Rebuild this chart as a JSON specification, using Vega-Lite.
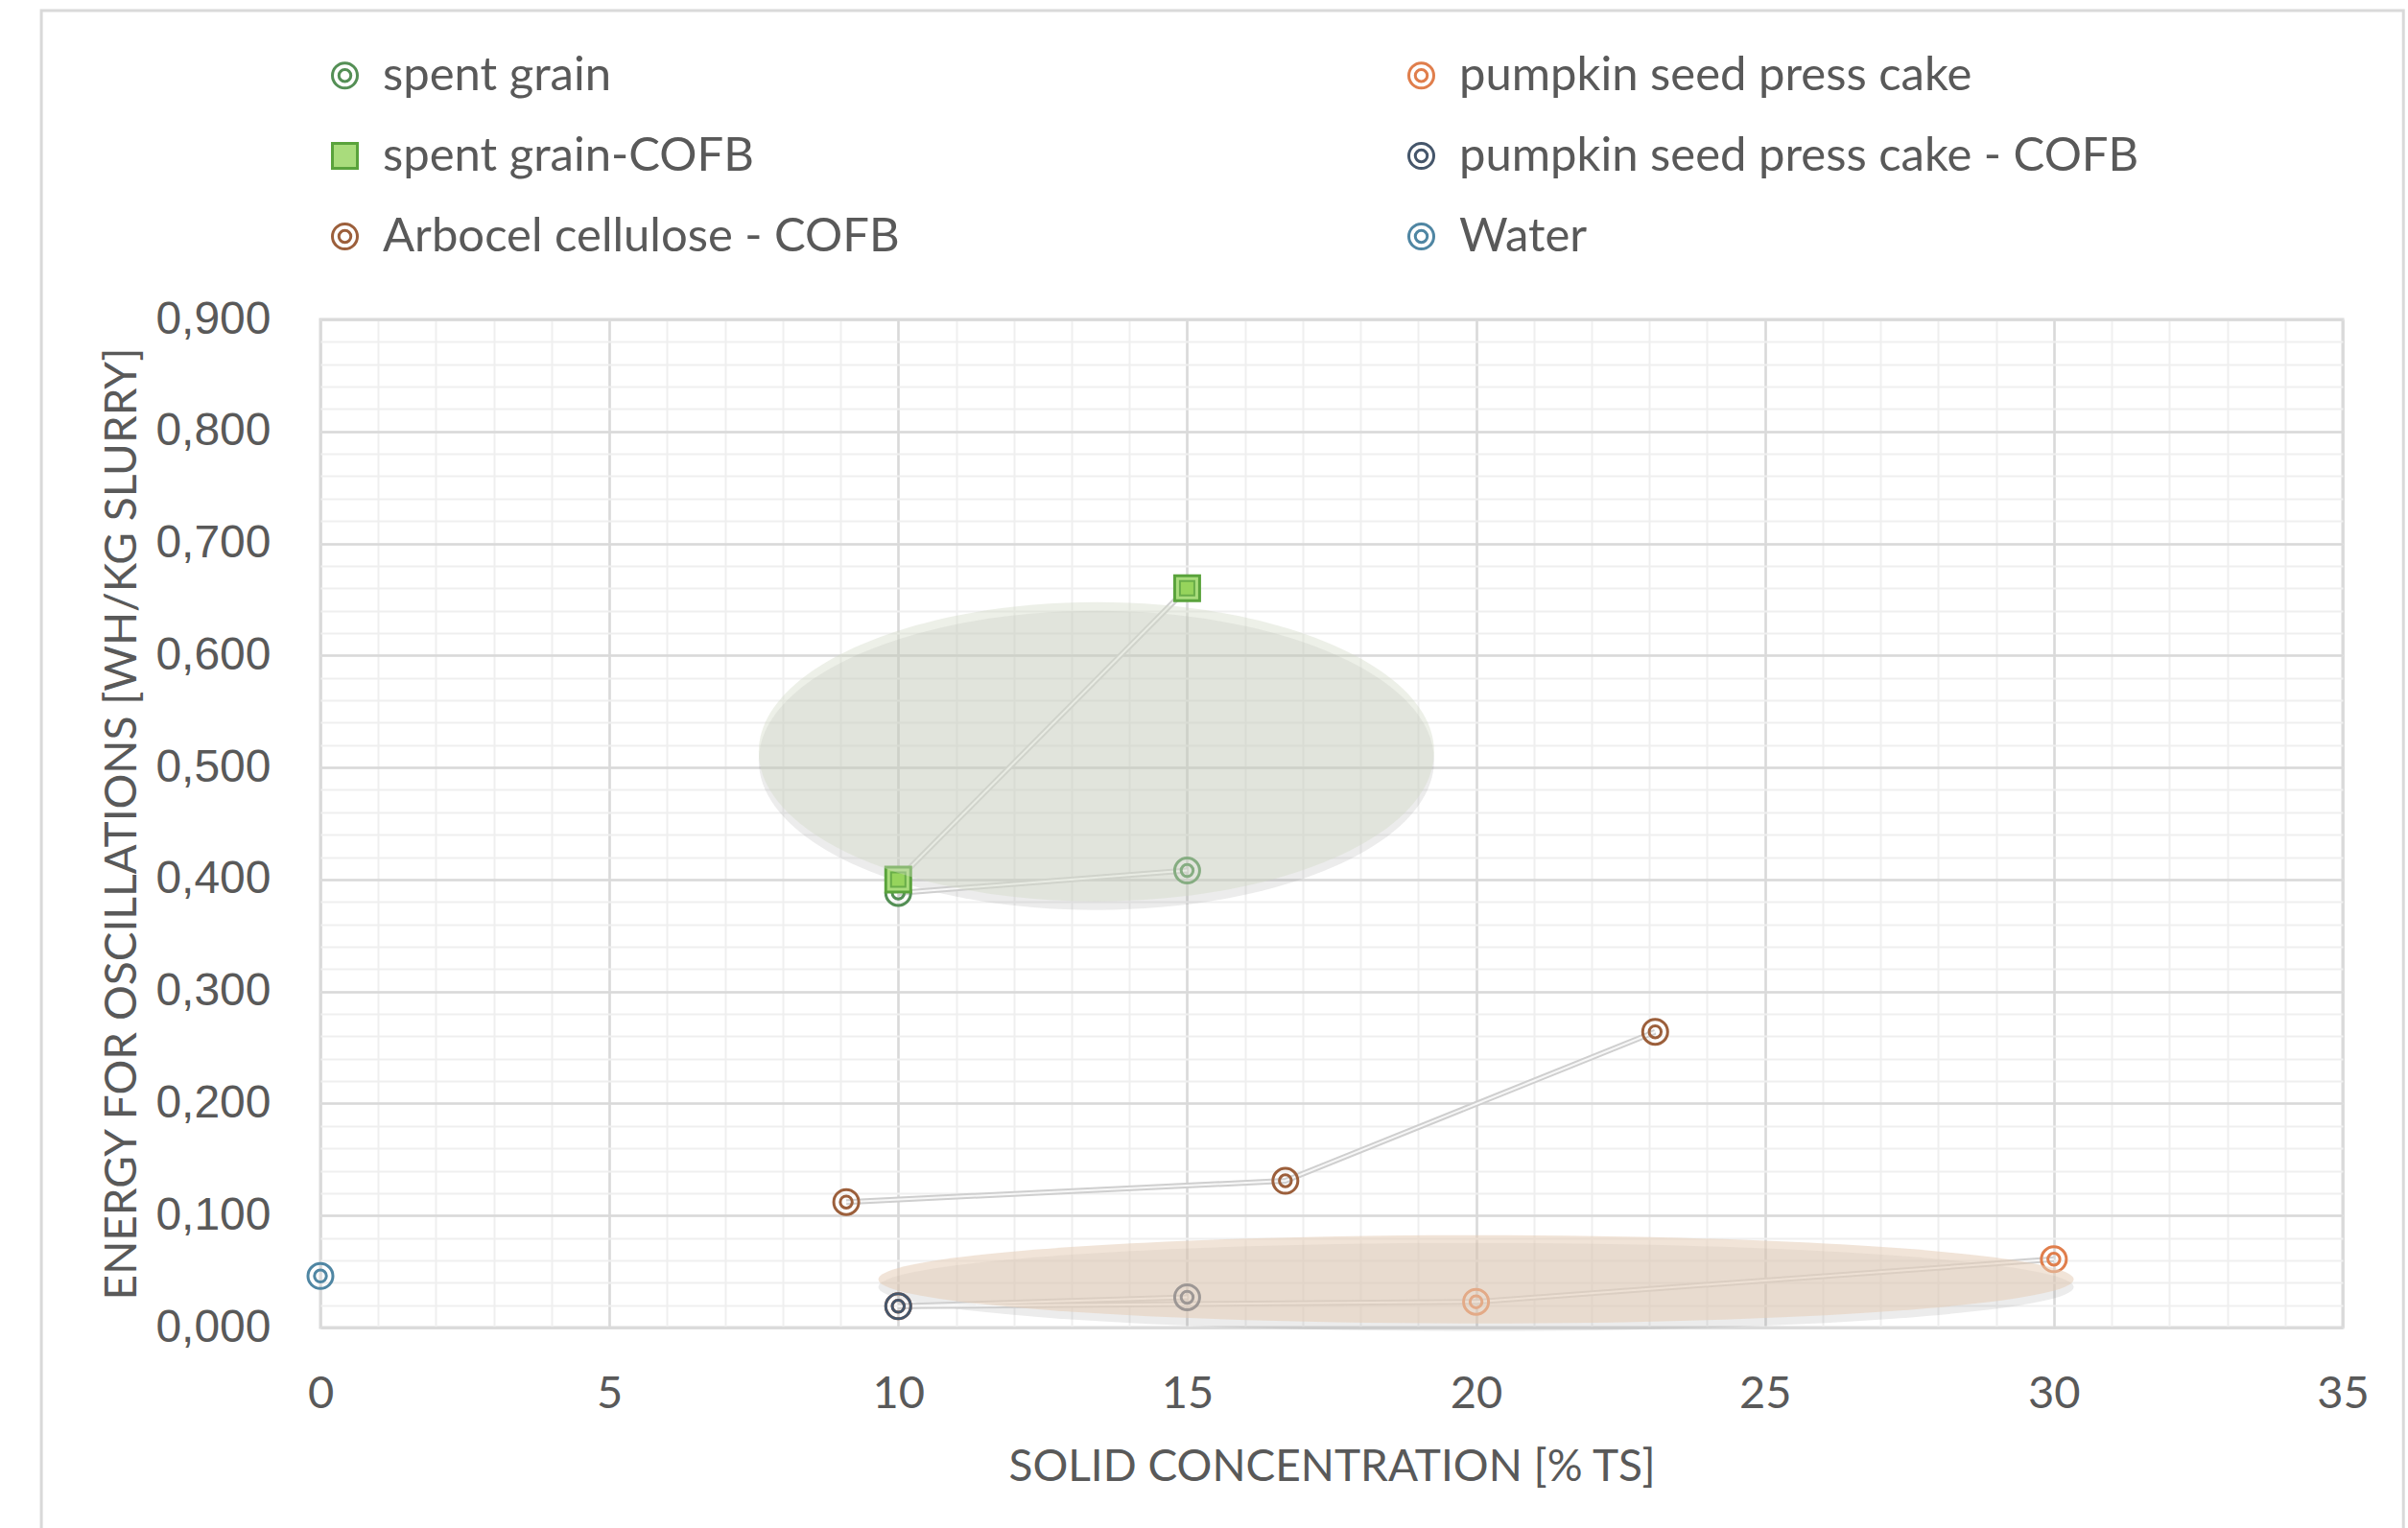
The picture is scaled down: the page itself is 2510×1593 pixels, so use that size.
{
  "$schema": "https://vega.github.io/schema/vega-lite/v6.json",
  "width": 2108,
  "height": 1051,
  "autosize": {"type": "none"},
  "padding": {"left": 334, "top": 333, "right": 68, "bottom": 209},
  "background": "#ffffff",
  "config": {
    "locale": {"number": {"decimal": ",", "thousands": ".", "grouping": [3], "currency": ["", " €"]}},
    "view": {"stroke": "#d9d9d9", "strokeWidth": 3},
    "legend": {
      "orient": "none",
      "legendX": 1,
      "legendY": -279,
      "columns": 2,
      "columnPadding": 519,
      "rowPadding": 34,
      "padding": 0,
      "labelFont": "Lato",
      "labelFontSize": 49,
      "labelColor": "#595959",
      "labelOffset": 15,
      "labelLimit": 2000,
      "symbolSize": 676,
      "symbolStrokeWidth": 3
    }
  },
  "datasets": {
    "series": [
      {"series": "spent grain", "ts": 10, "energy": 0.388},
      {"series": "spent grain", "ts": 15, "energy": 0.408},
      {"series": "Arbocel cellulose - COFB", "ts": 9.1, "energy": 0.112},
      {"series": "Arbocel cellulose - COFB", "ts": 16.7, "energy": 0.131},
      {"series": "Arbocel cellulose - COFB", "ts": 23.1, "energy": 0.264},
      {"series": "pumpkin seed press cake", "ts": 10, "energy": 0.019},
      {"series": "pumpkin seed press cake", "ts": 20, "energy": 0.023},
      {"series": "pumpkin seed press cake", "ts": 30, "energy": 0.061},
      {"series": "pumpkin seed press cake - COFB", "ts": 10, "energy": 0.019},
      {"series": "pumpkin seed press cake - COFB", "ts": 15, "energy": 0.027},
      {"series": "Water", "ts": 0, "energy": 0.046},
      {"series": "spent grain-COFB", "ts": 10, "energy": 0.400},
      {"series": "spent grain-COFB", "ts": 15, "energy": 0.660}
    ],
    "highlights": [
      {"group": "spent grain", "ts": 13.43, "energy": 0.514},
      {"group": "pumpkin", "ts": 20.0, "energy": 0.043}
    ]
  },
  "resolve": {"axis": {"x": "independent", "y": "independent"}},
  "layer": [
    {
      "data": {"values": [{}]},
      "mark": {"type": "rect", "fill": "transparent", "stroke": "#d9d9d9", "strokeWidth": 3, "clip": false},
      "encoding": {
        "x": {"datum": -4.83, "type": "quantitative", "scale": {"domain": [0, 35], "nice": false, "zero": false}, "axis": null},
        "x2": {"datum": 36.05},
        "y": {"datum": 1.1757, "type": "quantitative", "scale": {"domain": [0, 0.9], "nice": false, "zero": false}, "axis": null},
        "y2": {"datum": -0.35}
      }
    },
    {
      "data": {"name": "series"},
      "mark": {"type": "point", "opacity": 0},
      "encoding": {
        "x": {"field": "ts", "type": "quantitative", "scale": {"domain": [0, 35], "nice": false, "zero": false},
          "axis": {"orient": "bottom", "values": [0,1,2,3,4,5,6,7,8,9,10,11,12,13,14,15,16,17,18,19,20,21,22,23,24,25,26,27,28,29,30,31,32,33,34,35],
            "grid": true, "gridColor": "#efefef", "gridWidth": 2, "labels": false, "ticks": false, "domain": false, "title": null}},
        "y": {"field": "energy", "type": "quantitative", "scale": {"domain": [0, 0.9], "nice": false, "zero": false},
          "axis": {"orient": "left", "values": [0,0.02,0.04,0.06,0.08,0.1,0.12,0.14,0.16,0.18,0.2,0.22,0.24,0.26,0.28,0.3,0.32,0.34,0.36,0.38,0.4,0.42,0.44,0.46,0.48,0.5,0.52,0.54,0.56,0.58,0.6,0.62,0.64,0.66,0.68,0.7,0.72,0.74,0.76,0.78,0.8,0.82,0.84,0.86,0.88,0.9],
            "grid": true, "gridColor": "#efefef", "gridWidth": 2, "labels": false, "ticks": false, "domain": false, "title": null}}
      }
    },
    {
      "data": {"name": "highlights"},
      "transform": [{"filter": "datum.group === 'spent grain'"}],
      "mark": {"type": "point", "filled": true, "fill": "#808080", "opacity": 0.15, "strokeWidth": 0, "yOffset": 9, "size": 495616,
        "shape": "M-1,0C-1,-0.2447,-0.5523,-0.443,0,-0.443C0.5523,-0.443,1,-0.2447,1,0C1,0.2447,0.5523,0.443,0,0.443C-0.5523,0.443,-1,0.2447,-1,0Z"},
      "encoding": {
        "x": {"field": "ts", "type": "quantitative", "scale": {"domain": [0, 35], "nice": false, "zero": false}, "axis": null},
        "y": {"field": "energy", "type": "quantitative", "scale": {"domain": [0, 0.9], "nice": false, "zero": false}, "axis": null}
      }
    },
    {
      "data": {"name": "highlights"},
      "transform": [{"filter": "datum.group === 'pumpkin'"}],
      "mark": {"type": "point", "filled": true, "fill": "#808080", "opacity": 0.15, "strokeWidth": 0, "yOffset": 8, "size": 1552516,
        "shape": "M-1,0C-1,-0.0408,-0.5523,-0.0738,0,-0.0738C0.5523,-0.0738,1,-0.0408,1,0C1,0.0408,0.5523,0.0738,0,0.0738C-0.5523,0.0738,-1,0.0408,-1,0Z"},
      "encoding": {
        "x": {"field": "ts", "type": "quantitative", "scale": {"domain": [0, 35], "nice": false, "zero": false}, "axis": null},
        "y": {"field": "energy", "type": "quantitative", "scale": {"domain": [0, 0.9], "nice": false, "zero": false}, "axis": null}
      }
    },
    {
      "data": {"name": "series"},
      "mark": {"type": "line", "stroke": "#cfcfcf", "strokeWidth": 6},
      "encoding": {
        "detail": {"field": "series"},
        "x": {"field": "ts", "type": "quantitative", "scale": {"domain": [0, 35], "nice": false, "zero": false},
          "axis": {"orient": "bottom", "values": [0,5,10,15,20,25,30,35], "grid": true, "gridColor": "#d9d9d9", "gridWidth": 2.5,
            "domain": false, "ticks": false, "labelFont": "Lato", "labelFontSize": 47, "labelColor": "#595959", "labelPadding": 46,
            "labelFlush": false, "labelOverlap": false,
            "title": "SOLID CONCENTRATION [% TS]", "titleFont": "Lato", "titleFontSize": 46, "titleFontWeight": "normal",
            "titleColor": "#595959", "titlePadding": 31}},
        "y": {"field": "energy", "type": "quantitative", "scale": {"domain": [0, 0.9], "nice": false, "zero": false},
          "axis": {"orient": "left", "values": [0,0.1,0.2,0.3,0.4,0.5,0.6,0.7,0.8,0.9], "format": ".3f", "grid": true, "gridColor": "#d9d9d9", "gridWidth": 2.5,
            "domain": false, "ticks": false, "labelFont": "Liberation Sans", "labelFontSize": 48, "labelColor": "#595959", "labelPadding": 52,
            "labelFlush": false, "labelOverlap": false,
            "title": "ENERGY FOR OSCILLATIONS [WH/KG SLURRY]", "titleFont": "Lato", "titleFontSize": 46, "titleFontWeight": "normal",
            "titleColor": "#595959", "titlePadding": 10}}
      }
    },
    {
      "data": {"name": "series"},
      "mark": {"type": "line", "stroke": "#f7f7f7", "strokeWidth": 2},
      "encoding": {
        "detail": {"field": "series"},
        "x": {"field": "ts", "type": "quantitative", "scale": {"domain": [0, 35], "nice": false, "zero": false}, "axis": null},
        "y": {"field": "energy", "type": "quantitative", "scale": {"domain": [0, 0.9], "nice": false, "zero": false}, "axis": null}
      }
    },
    {
      "data": {"name": "series"},
      "mark": {"type": "point", "size": 676, "strokeWidth": 3, "opacity": 1},
      "encoding": {
        "x": {"field": "ts", "type": "quantitative", "scale": {"domain": [0, 35], "nice": false, "zero": false}, "axis": null},
        "y": {"field": "energy", "type": "quantitative", "scale": {"domain": [0, 0.9], "nice": false, "zero": false}, "axis": null},
        "stroke": {"field": "series", "type": "nominal", "title": null,
          "scale": {"domain": ["spent grain", "spent grain-COFB", "Arbocel cellulose - COFB", "pumpkin seed press cake", "pumpkin seed press cake - COFB", "Water"],
            "range": ["#548f55", "#5aa33c", "#9c5f3b", "#e07e4c", "#45566b", "#4f86a3"]}},
        "fill": {"field": "series", "type": "nominal", "title": null,
          "scale": {"domain": ["spent grain", "spent grain-COFB", "Arbocel cellulose - COFB", "pumpkin seed press cake", "pumpkin seed press cake - COFB", "Water"],
            "range": ["transparent", "#a9dc7c", "transparent", "transparent", "transparent", "transparent"]}},
        "shape": {"field": "series", "type": "nominal", "title": null,
          "scale": {"domain": ["spent grain", "spent grain-COFB", "Arbocel cellulose - COFB", "pumpkin seed press cake", "pumpkin seed press cake - COFB", "Water"],
            "range": [
              "M-1,0C-1,-0.5523,-0.5523,-1,0,-1C0.5523,-1,1,-0.5523,1,0C1,0.5523,0.5523,1,0,1C-0.5523,1,-1,0.5523,-1,0ZM-0.48,0C-0.48,-0.2651,-0.2651,-0.48,0,-0.48C0.2651,-0.48,0.48,-0.2651,0.48,0C0.48,0.2651,0.2651,0.48,0,0.48C-0.2651,0.48,-0.48,0.2651,-0.48,0Z",
              "square",
              "M-1,0C-1,-0.5523,-0.5523,-1,0,-1C0.5523,-1,1,-0.5523,1,0C1,0.5523,0.5523,1,0,1C-0.5523,1,-1,0.5523,-1,0ZM-0.48,0C-0.48,-0.2651,-0.2651,-0.48,0,-0.48C0.2651,-0.48,0.48,-0.2651,0.48,0C0.48,0.2651,0.2651,0.48,0,0.48C-0.2651,0.48,-0.48,0.2651,-0.48,0Z",
              "M-1,0C-1,-0.5523,-0.5523,-1,0,-1C0.5523,-1,1,-0.5523,1,0C1,0.5523,0.5523,1,0,1C-0.5523,1,-1,0.5523,-1,0ZM-0.48,0C-0.48,-0.2651,-0.2651,-0.48,0,-0.48C0.2651,-0.48,0.48,-0.2651,0.48,0C0.48,0.2651,0.2651,0.48,0,0.48C-0.2651,0.48,-0.48,0.2651,-0.48,0Z",
              "M-1,0C-1,-0.5523,-0.5523,-1,0,-1C0.5523,-1,1,-0.5523,1,0C1,0.5523,0.5523,1,0,1C-0.5523,1,-1,0.5523,-1,0ZM-0.48,0C-0.48,-0.2651,-0.2651,-0.48,0,-0.48C0.2651,-0.48,0.48,-0.2651,0.48,0C0.48,0.2651,0.2651,0.48,0,0.48C-0.2651,0.48,-0.48,0.2651,-0.48,0Z",
              "M-1,0C-1,-0.5523,-0.5523,-1,0,-1C0.5523,-1,1,-0.5523,1,0C1,0.5523,0.5523,1,0,1C-0.5523,1,-1,0.5523,-1,0ZM-0.48,0C-0.48,-0.2651,-0.2651,-0.48,0,-0.48C0.2651,-0.48,0.48,-0.2651,0.48,0C0.48,0.2651,0.2651,0.48,0,0.48C-0.2651,0.48,-0.48,0.2651,-0.48,0Z"
            ]}}
      }
    },
    {
      "data": {"name": "series"},
      "transform": [{"filter": "datum.series === 'spent grain-COFB'"}],
      "mark": {"type": "point", "shape": "square", "size": 225, "filled": true, "fill": "#8fd14f", "stroke": "#4f9a34", "strokeWidth": 2},
      "encoding": {
        "x": {"field": "ts", "type": "quantitative", "scale": {"domain": [0, 35], "nice": false, "zero": false}, "axis": null},
        "y": {"field": "energy", "type": "quantitative", "scale": {"domain": [0, 0.9], "nice": false, "zero": false}, "axis": null}
      }
    },
    {
      "data": {"name": "highlights"},
      "transform": [{"filter": "datum.group === 'spent grain'"}],
      "mark": {"type": "point", "filled": true, "fill": "#d3dac6", "opacity": 0.4, "strokeWidth": 0, "size": 495616,
        "shape": "M-1,0C-1,-0.2447,-0.5523,-0.443,0,-0.443C0.5523,-0.443,1,-0.2447,1,0C1,0.2447,0.5523,0.443,0,0.443C-0.5523,0.443,-1,0.2447,-1,0Z"},
      "encoding": {
        "x": {"field": "ts", "type": "quantitative", "scale": {"domain": [0, 35], "nice": false, "zero": false}, "axis": null},
        "y": {"field": "energy", "type": "quantitative", "scale": {"domain": [0, 0.9], "nice": false, "zero": false}, "axis": null}
      }
    },
    {
      "data": {"name": "highlights"},
      "transform": [{"filter": "datum.group === 'pumpkin'"}],
      "mark": {"type": "point", "filled": true, "fill": "#e6ceb8", "opacity": 0.55, "strokeWidth": 0, "size": 1552516,
        "shape": "M-1,0C-1,-0.0408,-0.5523,-0.0738,0,-0.0738C0.5523,-0.0738,1,-0.0408,1,0C1,0.0408,0.5523,0.0738,0,0.0738C-0.5523,0.0738,-1,0.0408,-1,0Z"},
      "encoding": {
        "x": {"field": "ts", "type": "quantitative", "scale": {"domain": [0, 35], "nice": false, "zero": false}, "axis": null},
        "y": {"field": "energy", "type": "quantitative", "scale": {"domain": [0, 0.9], "nice": false, "zero": false}, "axis": null}
      }
    }
  ]
}
